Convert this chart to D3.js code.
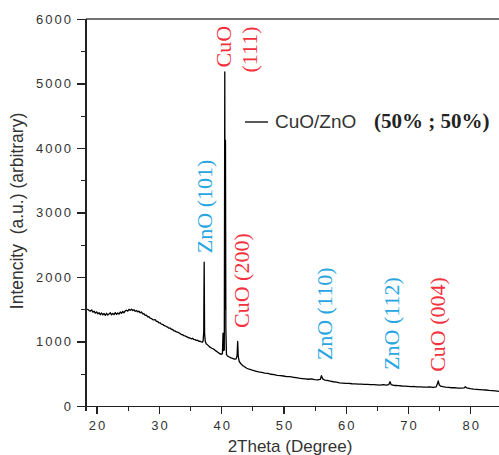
<!DOCTYPE html>
<html lang="en">
<head>
  <meta charset="UTF-8">
  <script src="https://cdn.jsdelivr.net/npm/d3@7"></script>
  <title>XRD CuO/ZnO</title>
  <style>
    body { margin: 0; background: #fff; }
    svg { display: block; background: #fff; }
    .axis path, .axis line { stroke: #222; stroke-width: 1.2; shape-rendering: crispEdges; }
    .axis text { font-family: "Liberation Sans", Arial, sans-serif; font-size: 13px; fill: #333; letter-spacing: 2px; }
    .peak { font-family: "Liberation Serif", "Times New Roman", serif; font-size: 22px; }
  </style>
</head>
<body>
<div id="chart"></div>
<script>
  // 2theta / intensity
  var twoTheta = [18.5, 18.8, 19.0, 19.2, 19.4, 19.6, 19.8, 20.0, 20.2, 20.4, 20.6, 20.8, 21.0, 21.2, 21.4, 21.6, 21.8, 22.0, 22.2, 22.4, 22.6, 22.8, 23.0, 23.2, 23.4, 23.6, 23.8, 24.0, 24.2, 24.4, 24.6, 24.8, 25.0, 25.2, 25.4, 25.6, 25.8, 26.0, 26.2, 26.4, 26.6, 26.8, 27.0, 27.2, 27.4, 27.6, 27.8, 28.0, 28.2, 28.4, 28.6, 28.8, 29.0, 29.2, 29.4, 29.6, 29.8, 30.0, 30.2, 30.4, 30.6, 30.8, 31.0, 31.2, 31.4, 31.6, 31.8, 32.0, 32.2, 32.4, 32.6, 32.8, 33.0, 33.2, 33.4, 33.6, 33.8, 34.0, 34.2, 34.4, 34.6, 34.8, 35.0, 35.2, 35.4, 35.6, 35.8, 36.0, 36.2, 36.4, 36.6, 36.8, 37.0, 37.1, 37.2, 37.27, 37.34, 37.45, 37.6, 37.9, 38.2, 38.5, 38.8, 39.1, 39.4, 39.7, 40.0, 40.2, 40.3, 40.38, 40.5, 40.58, 40.63, 40.69, 40.75, 40.85, 41.0, 41.3, 41.6, 41.9, 42.2, 42.4, 42.55, 42.65, 42.75, 42.9, 43.2, 43.5, 43.8, 44.1, 44.5, 45.0, 45.5, 46.0, 46.5, 47.0, 47.5, 48.0, 48.5, 49.0, 49.5, 50.0, 50.5, 51.0, 51.5, 52.0, 52.5, 53.0, 53.5, 54.0, 54.5, 55.0, 55.5, 55.9, 56.1, 56.3, 56.6, 57.0, 57.5, 58.0, 58.5, 59.0, 59.5, 60.0, 60.5, 61.0, 61.5, 62.0, 62.5, 63.0, 63.5, 64.0, 64.5, 65.0, 65.5, 66.0, 66.5, 66.9, 67.1, 67.3, 67.7, 68.0, 68.5, 69.0, 69.5, 70.0, 70.5, 71.0, 71.5, 72.0, 72.5, 73.0, 73.5, 74.0, 74.5, 74.7, 74.85, 75.0, 75.2, 75.6, 76.0, 76.5, 77.0, 77.5, 78.0, 78.5, 79.0, 79.2, 79.4, 80.0, 80.5, 81.0, 81.5, 82.0, 82.5, 83.0, 83.5, 84.0, 84.6];
  var intensity = [1505, 1480, 1472, 1490, 1455, 1470, 1440, 1458, 1428, 1448, 1415, 1442, 1412, 1434, 1405, 1438, 1410, 1428, 1445, 1412, 1436, 1416, 1448, 1420, 1442, 1424, 1458, 1436, 1466, 1446, 1474, 1484, 1470, 1498, 1484, 1502, 1480, 1492, 1468, 1480, 1460, 1470, 1446, 1458, 1428, 1432, 1405, 1410, 1382, 1384, 1362, 1356, 1340, 1334, 1338, 1312, 1310, 1290, 1290, 1270, 1266, 1250, 1244, 1232, 1224, 1206, 1208, 1190, 1186, 1166, 1164, 1148, 1144, 1136, 1124, 1108, 1108, 1090, 1088, 1074, 1068, 1056, 1054, 1042, 1050, 1032, 1030, 1016, 1020, 1004, 1004, 994, 990, 1010, 1150, 2230, 1120, 1000, 965, 940, 912, 895, 882, 858, 838, 816, 800, 812, 1130, 860, 870, 5180, 1500, 4120, 1200, 800, 775, 760, 745, 735, 725, 730, 780, 1000, 760, 690, 650, 625, 605, 585, 570, 555, 542, 530, 522, 510, 505, 492, 486, 475, 472, 465, 456, 455, 446, 440, 432, 426, 420, 415, 420, 410, 405, 412, 470, 420, 402, 396, 386, 376, 370, 360, 356, 350, 352, 345, 342, 340, 338, 336, 335, 330, 332, 328, 325, 330, 322, 330, 378, 330, 320, 318, 315, 310, 308, 305, 300, 302, 296, 298, 294, 292, 295, 290, 296, 340, 388, 330, 310, 300, 292, 288, 283, 285, 278, 276, 280, 300, 282, 268, 262, 258, 255, 250, 248, 242, 238, 235, 228];

  var xTicks = [20, 30, 40, 50, 60, 70, 80];
  var yTicks = [0, 1000, 2000, 3000, 4000, 5000, 6000];

  // peak labels: text, phase, 2theta of text baseline, intensity where text starts
  var peakText = ["CuO", "(111)", "ZnO (101)", "CuO (200)", "ZnO (110)", "ZnO (112)", "CuO (004)"];
  var peakPhase = ["CuO", "CuO", "ZnO", "CuO", "ZnO", "ZnO", "CuO"];
  var peakTheta = [41.6, 45.7, 38.5, 44.45, 57.75, 68.5, 75.9];
  var peakLevel = [5250, 5170, 2370, 1210, 710, 560, 530];

  var legendLabel = "CuO/ZnO";
  var legendNote = "(50% ; 50%)";

  var W = 499, H = 455;
  var svg = d3.select("#chart").append("svg").attr("width", W).attr("height", H);

  var x = d3.scaleLinear().domain([18.3, 84.6]).range([86, 499]);
  var y = d3.scaleLinear().domain([0, 6000]).range([406, 19]);

  var phaseColor = { CuO: "#f2323e", ZnO: "#27a6e2" };

  // top frame line
  svg.append("line")
    .attr("x1", x.range()[0]).attr("x2", x.range()[1])
    .attr("y1", y(6000)).attr("y2", y(6000))
    .attr("stroke", "#444").attr("stroke-width", 1.4);

  // minor ticks
  svg.append("g").attr("class", "axis")
    .attr("transform", "translate(0," + y(0) + ")")
    .call(d3.axisBottom(x).tickValues(d3.range(25, 85, 10)).tickSize(5).tickFormat(""))
    .select(".domain").remove();
  svg.append("g").attr("class", "axis")
    .attr("transform", "translate(" + x.range()[0] + ",0)")
    .call(d3.axisLeft(y).tickValues(d3.range(500, 6000, 1000)).tickSize(5).tickFormat(""))
    .select(".domain").remove();

  // x axis
  var gx = svg.append("g").attr("class", "axis")
    .attr("transform", "translate(0," + y(0) + ")")
    .call(d3.axisBottom(x).tickValues(xTicks).tickSize(8).tickSizeOuter(0).tickPadding(4).tickFormat(d3.format("d")));
  gx.selectAll("text").attr("dy", "0.9em").attr("dx", "1px");

  // y axis
  var gy = svg.append("g").attr("class", "axis")
    .attr("transform", "translate(" + x.range()[0] + ",0)")
    .call(d3.axisLeft(y).tickValues(yTicks).tickSize(9).tickSizeOuter(0).tickPadding(4).tickFormat(d3.format("d")));
  gy.select(".domain").attr("d", "M0," + (y(0) + 5) + "V" + y(6000));

  // pattern
  var line = d3.line()
    .x(function (d, i) { return x(twoTheta[i]); })
    .y(function (d) { return y(d); });

  svg.append("path")
    .datum(intensity)
    .attr("d", line)
    .attr("fill", "none")
    .attr("stroke", "#000")
    .attr("stroke-width", 1.3)
    .attr("stroke-linejoin", "round");

  // peak labels
  svg.selectAll(".peak")
    .data(peakText)
    .enter()
    .append("text")
    .attr("class", "peak")
    .attr("transform", function (d, i) {
      return "translate(" + x(peakTheta[i]) + "," + y(peakLevel[i]) + ") rotate(-90)";
    })
    .attr("fill", function (d, i) { return phaseColor[peakPhase[i]]; })
    .style("white-space", "pre")
    .text(function (d) { return d; });

  // legend
  svg.append("line")
    .attr("x1", 245).attr("x2", 268).attr("y1", 122).attr("y2", 122)
    .attr("stroke", "#000").attr("stroke-width", 1.3);
  svg.append("text")
    .attr("x", 275).attr("y", 128)
    .style("font-family", "Liberation Sans, Arial, sans-serif")
    .style("font-size", "19px")
    .attr("fill", "#333")
    .text(legendLabel);
  svg.append("text")
    .attr("x", 374).attr("y", 128)
    .style("font-family", "Liberation Serif, Times New Roman, serif")
    .style("font-size", "21px")
    .style("font-weight", "bold")
    .attr("fill", "#222")
    .text(legendNote);

  // axis titles
  svg.append("text")
    .attr("x", 290).attr("y", 452)
    .style("text-anchor", "middle")
    .style("font-family", "Liberation Sans, Arial, sans-serif")
    .style("font-size", "17px")
    .attr("fill", "#333")
    .text("2Theta (Degree)");

  svg.append("text")
    .attr("transform", "translate(23,211) rotate(-90)")
    .style("text-anchor", "middle")
    .style("white-space", "pre")
    .style("font-family", "Liberation Sans, Arial, sans-serif")
    .style("font-size", "17.5px")
    .attr("fill", "#333")
    .text("Intencity  (a.u.) (arbitrary)");
</script>
</body>
</html>
